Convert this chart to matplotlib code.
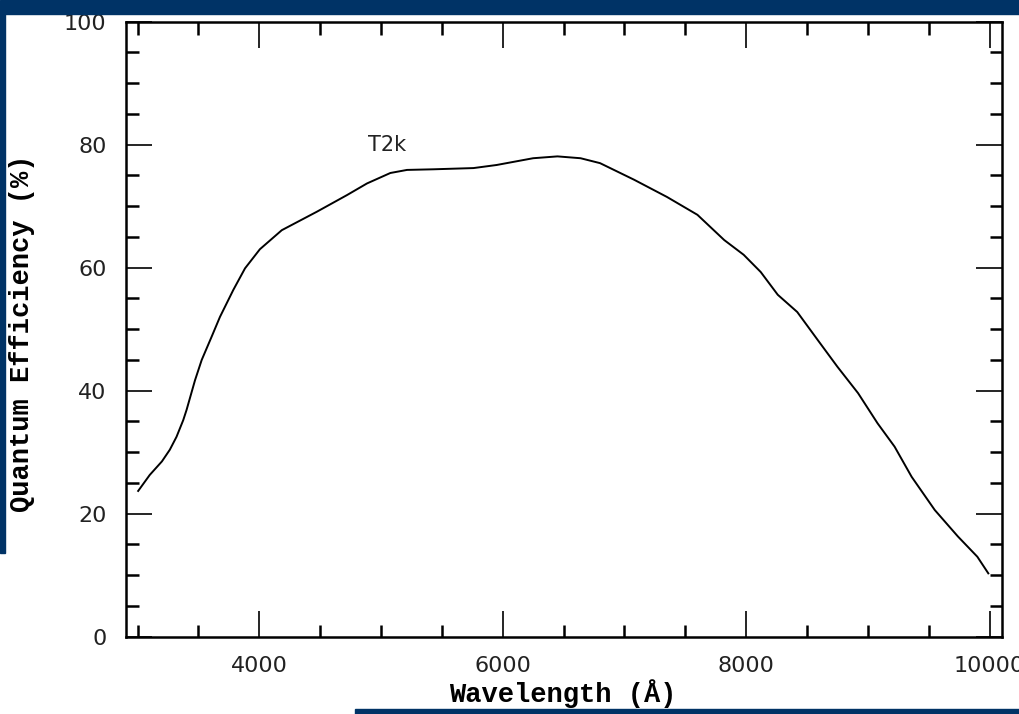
import matplotlib
matplotlib.use("Agg")
import matplotlib.pyplot as plt
from matplotlib.patches import Rectangle
from matplotlib.ticker import MultipleLocator

# data
wavelength = [3005, 3100, 3200, 3265, 3320, 3375, 3403, 3472, 3527, 3609, 3677,
              3787, 3883, 4005, 4185, 4473, 4720, 4885, 5077, 5214, 5430, 5760,
              5950, 6250, 6450, 6640, 6800, 7080, 7350, 7600, 7820, 7980, 8120,
              8260, 8420, 8590, 8750, 8920, 9080, 9220, 9360, 9550, 9740, 9900,
              9990]
qe = [23.7, 26.3, 28.5, 30.4, 32.5, 35.2, 36.9, 41.7, 45.0, 48.8, 52.0,
      56.4, 59.9, 63.0, 66.1, 69.1, 71.8, 73.7, 75.4, 75.9, 76.0, 76.2,
      76.7, 77.8, 78.1, 77.8, 77.0, 74.3, 71.5, 68.6, 64.5, 62.1, 59.3,
      55.6, 52.8, 48.2, 43.9, 39.6, 34.7, 30.9, 26.0, 20.6, 16.3, 13.0,
      10.3]
curve_name = "T2k"

navy = "#003366"

fig = plt.figure(figsize=(10.2, 7.14), dpi=100)
fig.patch.set_facecolor("white")

# navy frame pieces of the screenshot
fig.patches.append(Rectangle((0, 1 - 14/714), 1, 14/714, transform=fig.transFigure,
                             color=navy, zorder=0))
fig.patches.append(Rectangle((0, 1 - 553/714), 5/1020, (553 - 14)/714,
                             transform=fig.transFigure, color=navy, zorder=0))
fig.patches.append(Rectangle((355/1020, 0), 1 - 355/1020, 5/714,
                             transform=fig.transFigure, color=navy, zorder=0))

ax = fig.add_axes([126/1020, 1 - 636.7/714, (1001.7 - 126)/1020, (636.7 - 21.7)/714])
ax.plot(wavelength, qe, color="black", lw=1.4)
ax.text(4895, 78.3, curve_name, fontsize=15, color="#222222", ha="left", va="bottom")

ax.set_xlim(2905, 10100)
ax.set_ylim(0, 100)

ax.xaxis.set_major_locator(MultipleLocator(2000))
ax.xaxis.set_minor_locator(MultipleLocator(500))
ax.yaxis.set_major_locator(MultipleLocator(20))
ax.yaxis.set_minor_locator(MultipleLocator(5))

ax.tick_params(which="both", direction="in", top=True, right=True, colors="black")
ax.tick_params(which="major", length=19, width=1.2, pad=14, labelsize=16,
               labelcolor="#222222")
ax.tick_params(which="minor", length=9, width=1.8)

for s in ax.spines.values():
    s.set_linewidth(1.8)

fig.text(563/1020, 1 - 694/714, "Wavelength (Å)", family="Liberation Mono",
         fontweight="bold", fontsize=19.5, ha="center", va="center")
fig.text(22/1020, 1 - 333/714, "Quantum Efficiency (%)", family="Liberation Mono",
         fontweight="bold", fontsize=19.5, ha="center", va="center", rotation=90)

fig.savefig("out.png", dpi=100)
